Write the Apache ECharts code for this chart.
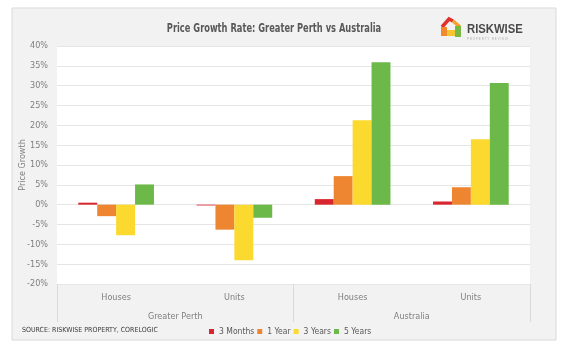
<!DOCTYPE html>
<html>
<head>
<meta charset="utf-8">
<script src="https://cdn.jsdelivr.net/npm/echarts@6/dist/echarts.min.js"></script>
<style>
  html, body { margin: 0; padding: 0; background: #fff; }
  #chart { width: 580px; height: 352px; }
</style>
</head>
<body>
<div id="chart"></div>
<script>
// data
var categories = ['Houses', 'Units', 'Houses', 'Units'];
var regions = ['Greater Perth', 'Australia'];
var months3 = [0.5, -0.2, 1.4, 0.8];
var year1 = [-2.9, -6.3, 7.2, 4.4];
var years3 = [-7.7, -14.0, 21.3, 16.5];
var years5 = [5.1, -3.3, 35.9, 30.7];

var font = "'Liberation Sans Narrow', 'DejaVu Sans Condensed', 'Liberation Sans', sans-serif";
var gray = '#7f7f7f';

var myChart = echarts.init(document.getElementById('chart'));
var option = {
  backgroundColor: '#fff',
  textStyle: { fontFamily: font },
  graphic: [
    { type: 'rect', z: -10, shape: { x: 12, y: 8, width: 544, height: 332 },
      style: { fill: '#f2f2f2', stroke: '#d9d9d9', lineWidth: 1 } },
    // title, squeezed a bit to look like the narrow original font
    { type: 'text', x: 274, y: 29, scaleX: 0.77,
      style: { text: 'Price Growth Rate: Greater Perth vs Australia', fill: '#595959',
        font: 'bold 12px ' + font, align: 'center', verticalAlign: 'middle' } },
    // logo
    { type: 'polyline', shape: { points: [[442, 27], [449, 19], [453, 21]] },
      style: { stroke: '#e0312b', lineWidth: 3.5, fill: null } },
    { type: 'polyline', shape: { points: [[453, 21], [460, 27]] },
      style: { stroke: '#f2a12e', lineWidth: 3.5, fill: null } },
    { type: 'rect', shape: { x: 441, y: 27, width: 6, height: 9 }, style: { fill: '#f08a2c' } },
    { type: 'rect', shape: { x: 447, y: 30, width: 8, height: 6 }, style: { fill: '#f7c531' } },
    { type: 'rect', shape: { x: 455, y: 26, width: 6, height: 11 }, style: { fill: '#78b843' } },
    { type: 'text', x: 467, y: 30, scaleX: 0.94,
      style: { text: 'RISKWISE', fill: '#4a4a4a', font: "bold 12px 'Liberation Sans', sans-serif",
        verticalAlign: 'middle' } },
    { type: 'text', x: 467, y: 39,
      style: { text: 'P R O P E R T Y   R E V I E W', fill: '#b0b0b0',
        font: "3px 'Liberation Sans', sans-serif", verticalAlign: 'middle' } },
    { type: 'text', x: 22, y: 330,
      style: { text: 'SOURCE: RISKWISE PROPERTY, CORELOGIC', fill: '#3a3a3a',
        font: '7px ' + font, verticalAlign: 'middle' } }
  ],
  legend: {
    data: ['3 Months', '1 Year', '3 Years', '5 Years'],
    left: 204, top: 322,
    itemWidth: 5, itemHeight: 5, itemGap: 3,
    icon: 'rect',
    textStyle: { fontSize: 8.5, color: '#595959', fontFamily: font }
  },
  grid: {
    left: 57, top: 46, width: 473, height: 238,
    show: true, backgroundColor: '#fff', borderWidth: 0
  },
  xAxis: [
    {
      type: 'category', data: categories, position: 'bottom',
      axisLine: { show: false }, axisTick: { show: false },
      axisLabel: { color: gray, fontSize: 9, margin: 9 }
    },
    {
      type: 'category', data: regions, position: 'bottom',
      axisLine: { show: false },
      axisTick: { show: true, length: 38, lineStyle: { color: '#dadada' } },
      axisLabel: { color: gray, fontSize: 9, margin: 28 }
    }
  ],
  yAxis: {
    type: 'value', min: -20, max: 40, interval: 5,
    name: 'Price Growth', nameLocation: 'middle', nameGap: 30, nameRotate: 90,
    nameMoveOverlap: false,
    nameTextStyle: { color: gray, fontSize: 9 },
    axisLine: { show: false }, axisTick: { show: false },
    axisLabel: { formatter: '{value}%', color: gray, fontSize: 9, margin: 9 },
    splitLine: { lineStyle: { color: '#e6e6e6' } }
  },
  series: [
    { name: '3 Months', type: 'bar', data: months3, itemStyle: { color: '#d9262e' },
      barGap: '0%', barCategoryGap: '36%' },
    { name: '1 Year', type: 'bar', data: year1, itemStyle: { color: '#ee8631' } },
    { name: '3 Years', type: 'bar', data: years3, itemStyle: { color: '#fcd92f' } },
    { name: '5 Years', type: 'bar', data: years5, itemStyle: { color: '#6cb94a' } }
  ]
};
myChart.setOption(option);
</script>
</body>
</html>
